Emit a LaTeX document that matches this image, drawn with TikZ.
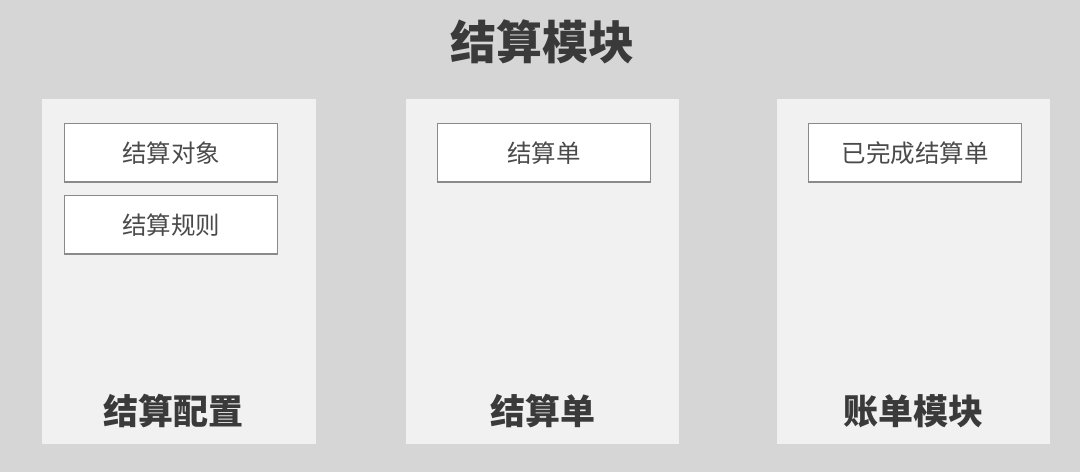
\documentclass[tikz,border=0pt]{standalone}
\usepackage{fontspec}
\setmainfont{Noto Sans CJK SC}
\definecolor{bgc}{HTML}{D6D6D6}
\definecolor{panelc}{HTML}{F1F1F1}
\definecolor{edgec}{HTML}{8A8A8A}
\definecolor{txtc}{HTML}{3A3A3A}
\definecolor{smalltxt}{HTML}{4A4A4A}
\tikzset{
  panel/.style={fill=panelc, draw=none},
  itembox/.style={draw=edgec, line width=1.5pt, fill=white, minimum width=213pt, minimum height=58.5pt, inner sep=0pt, anchor=north west, font=\fontsize{24.5}{26}\selectfont, text=smalltxt},
  paneltitle/.style={font=\fontsize{35}{38}\selectfont\bfseries, text=txtc},
  maintitle/.style={font=\fontsize{46}{50}\selectfont\bfseries, text=txtc}
}
\begin{document}
\begin{tikzpicture}[x=1pt,y=-1pt]
\fill[bgc] (0,0) rectangle (1080,472);
\useasboundingbox (0,0) rectangle (1080,472);
\node[maintitle] (title) at (542,42) {结算模块};
\fill[panel] (42,99) rectangle (316,444);
\fill[panel] (406,99) rectangle (679,444);
\fill[panel] (777,99) rectangle (1050,444);
\node[itembox] (obj) at (63.75,122.75) {结算对象};
\node[itembox] (rule) at (63.75,194.75) {结算规则};
\node[itembox] (bill) at (436.75,122.75) {结算单};
\node[itembox] (done) at (807.75,122.75) {已完成结算单};
\node[paneltitle] (p1) at (173,411) {结算配置};
\node[paneltitle] (p2) at (542.5,411) {结算单};
\node[paneltitle] (p3) at (913.5,411) {账单模块};
\end{tikzpicture}
\end{document}
